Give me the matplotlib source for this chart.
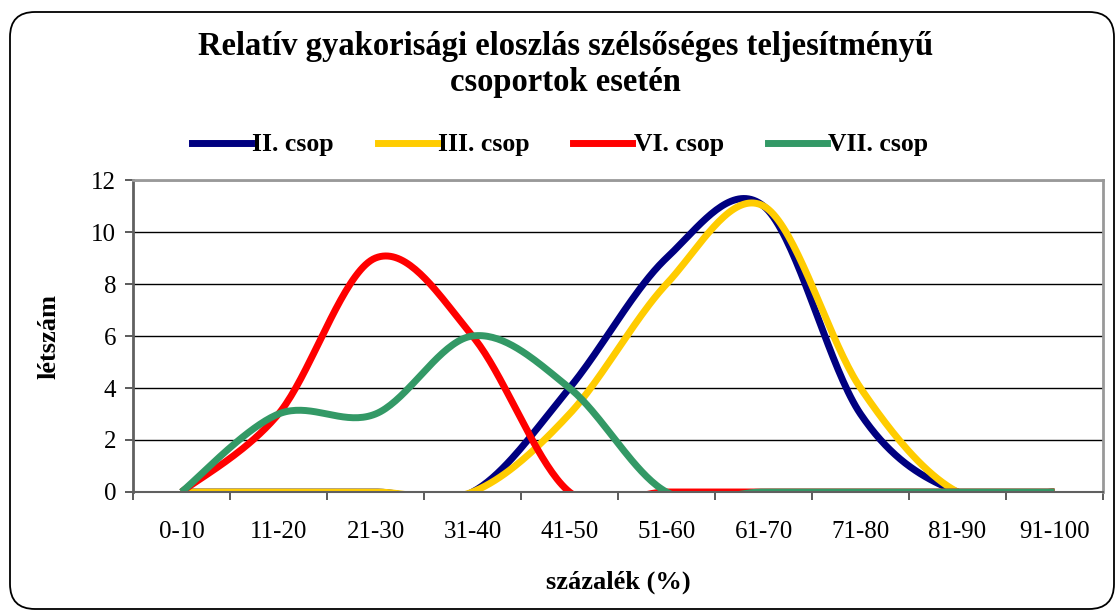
import numpy as np
import matplotlib
matplotlib.use("Agg")
import matplotlib.pyplot as plt
from matplotlib.patches import FancyBboxPatch
from matplotlib.lines import Line2D
from matplotlib.transforms import IdentityTransform

categories = ['0-10', '11-20', '21-30', '31-40', '41-50', '51-60',
              '61-70', '71-80', '81-90', '91-100']
csop_II = [0, 0, 0, 0, 4, 9, 11, 3, 0, 0]
csop_III = [0, 0, 0, 0, 3, 8, 11, 4, 0, 0]
csop_VI = [0, 3, 9, 6, 0, 0, 0, 0, 0, 0]
csop_VII = [0, 3, 3, 6, 4, 0, 0, 0, 0, 0]
series_names = ['II. csop', 'III. csop', 'VI. csop', 'VII. csop']
series_values = [csop_II, csop_III, csop_VI, csop_VII]
colors = ['#000080', '#FFCC00', '#FF0000', '#339966']

plt.rcParams['font.family'] = ['Liberation Serif', 'DejaVu Serif']


def smooth(xs, ys, n=40):
    xs = np.asarray(xs, float)
    ys = np.asarray(ys, float)
    P = np.column_stack([xs, ys])
    m = len(P)
    out = []
    for i in range(m - 1):
        p0 = P[i - 1] if i > 0 else P[i]
        p1 = P[i]
        p2 = P[i + 1]
        p3 = P[i + 2] if i + 2 < m else P[i + 1]
        c1 = p1 + (p2 - p0) / 6.0
        c2 = p2 - (p3 - p1) / 6.0
        t = np.linspace(0, 1, n)[:, None]
        seg = ((1 - t) ** 3) * p1 + 3 * ((1 - t) ** 2) * t * c1 + 3 * (1 - t) * t ** 2 * c2 + t ** 3 * p2
        out.append(seg if i == 0 else seg[1:])
    a = np.vstack(out)
    return a[:, 0], a[:, 1]


fig = plt.figure(figsize=(11.17, 6.12), dpi=100)

frame = FancyBboxPatch((10, 3), 1104, 597, boxstyle="round,pad=0,rounding_size=25",
                       transform=IdentityTransform(), fill=False, edgecolor='black', linewidth=1.3)
fig.patches.append(frame)

ax = fig.add_axes([133 / 1117, 1 - 492 / 612, (1103 - 133) / 1117, (492 - 180) / 612])

x = np.arange(len(categories))
for name, vals, c in zip(series_names, series_values, colors):
    sx, sy = smooth(x, vals)
    ax.plot(sx, sy, color=c, linewidth=5.0, solid_capstyle='butt', solid_joinstyle='round', label=name)

ax.set_xlim(-0.5, len(categories) - 0.5)
ax.set_ylim(0, 12)
ax.set_yticks(np.arange(0, 13, 2))
ax.yaxis.grid(True, color='black', linewidth=1.0)
ax.set_axisbelow(True)

ax.set_xticks(np.arange(-0.5, len(categories), 1.0))
ax.set_xticklabels([])
ax.set_xticks(x, minor=True)
ax.set_xticklabels(categories, minor=True)
ax.tick_params(axis='x', which='minor', length=0, pad=21, labelsize=18)
ax.tick_params(axis='x', which='major', length=6, width=1.2, color='#404040', direction='out')
ax.tick_params(axis='y', length=6, width=1.2, color='#404040', direction='out', labelsize=18, pad=6)

for s in ['top', 'right']:
    ax.spines[s].set_color('#999999')
    ax.spines[s].set_linewidth(2)
ax.spines['left'].set_color('#606060')
ax.spines['left'].set_linewidth(2)
ax.spines['bottom'].set_color('#606060')
ax.spines['bottom'].set_linewidth(1.5)

ax.set_ylabel('létszám', fontsize=19, fontweight='bold', labelpad=22)
ax.set_xlabel('százalék (%)', fontsize=19, fontweight='bold', labelpad=20)

fig.text(0.506, 1 - 46 / 612, 'Relatív gyakorisági eloszlás szélsőséges teljesítményű',
         ha='center', va='center', fontsize=23.5, fontweight='bold')
fig.text(0.506, 1 - 83 / 612, 'csoportok esetén',
         ha='center', va='center', fontsize=23.5, fontweight='bold')

handles = [Line2D([0], [0], color=c, linewidth=5.0) for c in colors]
fig.legend(handles, series_names, loc='center', bbox_to_anchor=(560 / 1117, 1 - 145 / 612), ncol=4,
           frameon=False, prop={'weight': 'bold', 'size': 18.5}, handlelength=2.3,
           handletextpad=0.05, columnspacing=1.7)

fig.savefig('out.png', dpi=100)
